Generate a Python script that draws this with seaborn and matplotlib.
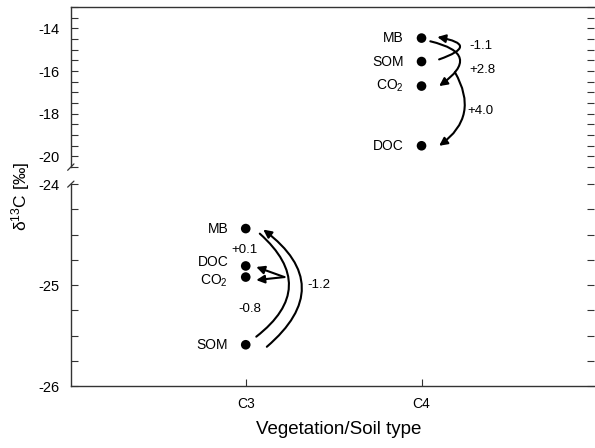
import matplotlib
matplotlib.use('Agg')
import matplotlib.pyplot as plt
import pandas as pd
import seaborn as sns
from matplotlib.ticker import MultipleLocator

# data
pools_c4 = ["MB", "SOM", "CO$_2$", "DOC"]
d13c_c4 = [-14.45, -15.55, -16.7, -19.5]
pools_c3 = ["MB", "DOC", "CO$_2$", "SOM"]
d13c_c3 = [-24.44, -24.81, -24.92, -25.59]
categories = ["C3", "C4"]
shift_labels_c4 = ["-1.1", "+2.8", "+4.0"]
shift_labels_c3 = ["+0.1", "-0.8", "-1.2"]

xpos = {c: i for i, c in enumerate(categories)}

df = pd.DataFrame({
    "veg": ["C4"] * 4 + ["C3"] * 4,
    "pool": pools_c4 + pools_c3,
    "d13c": d13c_c4 + d13c_c3,
})
df["x"] = df["veg"].map(xpos)

sns.set_style("ticks")
plt.rcParams['font.family'] = ['Liberation Sans', 'DejaVu Sans']
plt.rcParams['mathtext.fontset'] = 'custom'
plt.rcParams['mathtext.rm'] = 'Liberation Sans'
plt.rcParams['mathtext.it'] = 'Liberation Sans:italic'
plt.rcParams['axes.unicode_minus'] = False
plt.rcParams['text.color'] = 'black'
plt.rcParams['xtick.labelcolor'] = 'black'
plt.rcParams['ytick.labelcolor'] = 'black'
plt.rcParams['axes.labelcolor'] = 'black'

fig = plt.figure(figsize=(5.95, 4.48), dpi=100)
ax_top = fig.add_axes([0.119, 0.627, 0.879, 0.357])
ax_bot = fig.add_axes([0.119, 0.138, 0.879, 0.451])

top = df[df["veg"] == "C4"]
bot = df[df["veg"] == "C3"]
sns.scatterplot(data=top, x="x", y="d13c", ax=ax_top, color="black", s=48,
                edgecolor="none", legend=False)
sns.scatterplot(data=bot, x="x", y="d13c", ax=ax_bot, color="black", s=48,
                edgecolor="none", legend=False)

xlim = (-0.995, 1.98)
for ax in (ax_top, ax_bot):
    ax.set_xlim(*xlim)
    ax.set_xlabel("")
    ax.set_ylabel("")
    ax.spines['right'].set_visible(False)
    for sp in ax.spines.values():
        sp.set_linewidth(1.0)
        sp.set_color("#333333")
    ax.tick_params(axis='y', which='both', direction='in', length=5,
                   labelsize=10.5, width=0.8, color="#333333", pad=8)
    ax.tick_params(axis='y', which='both', right=True, labelright=False)

ax_top.set_ylim(-20.5, -13.0)
ax_top.set_yticks([-20, -18, -16, -14])
ax_top.yaxis.set_minor_locator(MultipleLocator(0.5))
ax_top.spines['bottom'].set_visible(False)
ax_top.set_xticks([])

ax_bot.set_ylim(-26, -24)
ax_bot.set_yticks([-26, -25, -24])
ax_bot.yaxis.set_minor_locator(MultipleLocator(0.25))
ax_bot.spines['top'].set_visible(False)
ax_bot.set_xticks([xpos[c] for c in categories])
ax_bot.set_xticklabels(categories)
ax_bot.tick_params(axis='x', direction='in', length=5, labelsize=10,
                   pad=8, color="#333333")
ax_bot.set_xlabel("Vegetation/Soil type", fontsize=13.5, labelpad=9)
ax_bot.xaxis.set_label_coords(0.512, -0.17)

# axis break marks
kw = dict(color="#333333", lw=0.9, clip_on=False)
ax_top.plot([-0.006, 0.006], [-0.02, 0.02], transform=ax_top.transAxes, **kw)
ax_bot.plot([-0.006, 0.006], [0.985, 1.015], transform=ax_bot.transAxes, **kw)

fig.text(0.035, 0.562, "δ$^{13}$C [‰]", rotation=90, fontsize=12.5,
         ha="center", va="center")

# pool labels (small nudges keep DOC / CO2 apart at C3)
nudge = {("C3", "DOC"): 0.035, ("C3", "CO$_2$"): -0.035}
for ax, sub in ((ax_top, top), (ax_bot, bot)):
    for _, r in sub.iterrows():
        dy = nudge.get((r["veg"], r["pool"]), 0.0)
        ax.text(r["x"] - 0.1, r["d13c"] + dy, r["pool"], fontsize=10,
                ha="right", va="center")

# C4 shifts
x4 = xpos["C4"]
mb4, som4, co24, doc4 = d13c_c4
ap = dict(arrowstyle="-|>", color="black", lw=1.5, mutation_scale=12,
          shrinkA=0, shrinkB=0)
ax_top.annotate("", xy=(x4 + 0.09, mb4 + 0.05), xytext=(x4 + 0.1, som4 + 0.1),
                arrowprops=dict(ap, connectionstyle="arc3,rad=1.9"))
ax_top.annotate("", xy=(x4 + 0.1, co24), xytext=(x4 + 0.05, mb4 - 0.15),
                arrowprops=dict(ap, connectionstyle="arc3,rad=-1.1"))
ax_top.annotate("", xy=(x4 + 0.1, doc4), xytext=(x4 + 0.19, som4 - 0.5),
                arrowprops=dict(ap, connectionstyle="arc3,rad=-0.45"))
ax_top.text(x4 + 0.27, -14.8, shift_labels_c4[0], fontsize=9.5, ha="left", va="center")
ax_top.text(x4 + 0.27, -15.95, shift_labels_c4[1], fontsize=9.5, ha="left", va="center")
ax_top.text(x4 + 0.26, -17.85, shift_labels_c4[2], fontsize=9.5, ha="left", va="center")

# C3 shifts
x3 = xpos["C3"]
mb3, doc3, co23, som3 = d13c_c3
ax_bot.annotate("", xy=(x3 + 0.06, som3 + 0.08), xytext=(x3 + 0.08, mb3 - 0.05),
                arrowprops=dict(arrowstyle="-", color="black", lw=1.5,
                                shrinkA=0, shrinkB=0,
                                connectionstyle="arc3,rad=-0.6"))
ax_bot.annotate("", xy=(x3 + 0.1, mb3 - 0.01), xytext=(x3 + 0.12, som3 - 0.02),
                arrowprops=dict(ap, connectionstyle="arc3,rad=0.62"))
hub = (x3 + 0.22, -24.92)
ax_bot.annotate("", xy=(x3 + 0.06, doc3 - 0.01), xytext=hub, arrowprops=ap)
ax_bot.annotate("", xy=(x3 + 0.06, co23 - 0.03), xytext=hub, arrowprops=ap)
ax_bot.text(x3 - 0.08, -24.65, shift_labels_c3[0], fontsize=9.5, ha="left", va="center")
ax_bot.text(x3 - 0.04, -25.24, shift_labels_c3[1], fontsize=9.5, ha="left", va="center")
ax_bot.text(x3 + 0.35, -25.0, shift_labels_c3[2], fontsize=9.5, ha="left", va="center")

fig.savefig("out.png", dpi=100)
plt.close()
